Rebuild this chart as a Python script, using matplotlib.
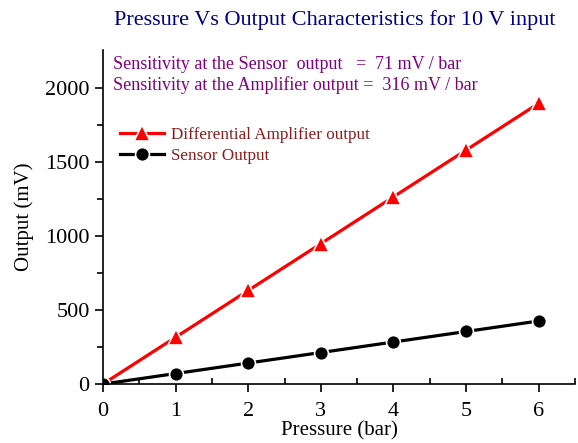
import matplotlib.pyplot as plt

pressure = [0, 1, 2, 3, 4, 5, 6]
amp_out = [0, 316, 632, 948, 1264, 1580, 1896]
sensor_out = [0, 71, 142, 213, 284, 355, 426]

plt.rcParams['font.family'] = ['Liberation Serif', 'DejaVu Serif']

fig = plt.figure(figsize=(5.78, 4.43), dpi=100)
ax = fig.add_axes([0.178, 0.133, 0.817, 0.754])

ax.plot(pressure, amp_out, color='#ff0000', lw=2.3, marker='^', ms=11,
        mec='white', mew=1.2, label='Differential Amplifier output')
ax.plot(pressure, sensor_out, color='black', lw=2.3, marker='o', ms=10,
        mec='white', mew=1.2, label='Sensor Output')

ax.set_xlim(0, 6.48)
ax.set_ylim(0, 2255)
ax.set_xticks(range(0, 7))
ax.set_xticks([0.5, 1.5, 2.5, 3.5, 4.5, 5.5, 6.5], minor=True)
ax.set_yticks([0, 500, 1000, 1500, 2000])
ax.set_yticks([250, 750, 1250, 1750], minor=True)

for s in ['top', 'right']:
    ax.spines[s].set_visible(False)
ax.spines['left'].set_linewidth(1.2)
ax.spines['bottom'].set_linewidth(1.2)
ax.tick_params(axis='both', which='major', direction='out', length=6, width=1.2, labelsize=16)
ax.tick_params(axis='x', which='major', pad=7)
ax.tick_params(axis='y', which='minor', direction='out', length=4, width=1.2)
ax.tick_params(axis='x', which='minor', direction='in', length=4, width=1.2)

ax.set_xlabel('Pressure (bar)', fontsize=15, labelpad=0)
ax.set_ylabel('Output (mV)', fontsize=15, labelpad=8)

fig.text(0.58, 0.955, 'Pressure Vs Output Characteristics for 10 V input',
         ha='center', va='center', fontsize=16, color='#000080')

ax.text(0.022, 0.958, 'Sensitivity at the Sensor  output   =  71 mV / bar',
        transform=ax.transAxes, fontsize=13, color='#800080', va='center')
ax.text(0.022, 0.896, 'Sensitivity at the Amplifier output =  316 mV / bar',
        transform=ax.transAxes, fontsize=13, color='#800080', va='center')

leg = ax.legend(loc='upper left', bbox_to_anchor=(0.01, 0.805), frameon=False,
                fontsize=12.3, handlelength=2.6, handletextpad=0.4,
                labelspacing=0.3, borderpad=0.2)
for t in leg.get_texts():
    t.set_color('#8b1a1a')

plt.savefig('out.png')
plt.close()
